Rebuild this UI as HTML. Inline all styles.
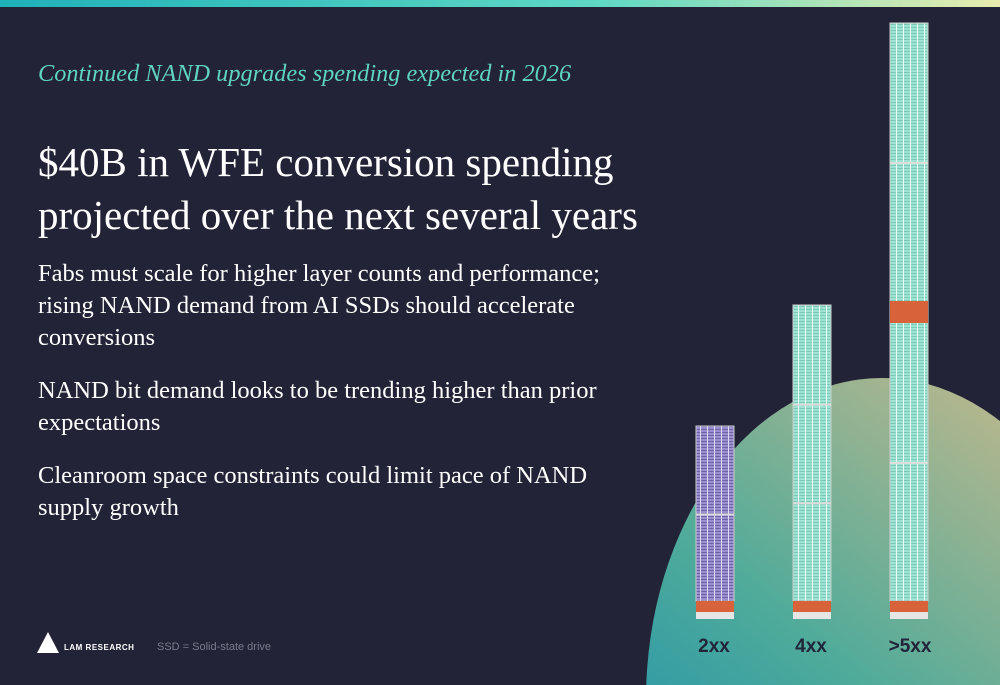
<!DOCTYPE html>
<html><head><meta charset="utf-8"><style>
html,body{margin:0;width:1000px;height:685px;overflow:hidden}
body{background:#222336;position:relative;font-family:"Liberation Serif",serif}
.t{position:absolute;left:38px;color:#fff;white-space:nowrap}
</style></head><body>
<div style="position:absolute;left:0;top:0;width:1000px;height:7px;background:linear-gradient(90deg,#1fb1b9,#5fd8c4 60%,#e8ecae)"></div>
<svg width="1000" height="685" style="position:absolute;left:0;top:0">
<defs>
<linearGradient id="arc" x1="0.2" y1="1" x2="0.8" y2="0">
<stop offset="0" stop-color="#1089b4"/><stop offset="0.5" stop-color="#4fab9a"/><stop offset="1" stop-color="#c2b88c"/></linearGradient>
<pattern id="pp" width="7" height="3" patternUnits="userSpaceOnUse"><rect width="7" height="3" fill="#9b8fd0"/><rect width="7" height="1" fill="#6e64a8"/><rect width="1" height="3" fill="#e0dcf0"/></pattern>
<pattern id="gp" width="7" height="3" patternUnits="userSpaceOnUse"><rect width="7" height="3" fill="#9fe3d4"/><rect width="7" height="1" fill="#7ccbb9"/><rect width="1" height="3" fill="#eef8f5"/></pattern>
</defs>
<ellipse cx="882" cy="700" rx="236" ry="322" fill="url(#arc)"/>
<g id="bars"></g>
<g font-family="Liberation Sans,sans-serif" font-weight="bold" font-size="19" fill="#22243a" text-anchor="middle">
<text x="714" y="652">2xx</text>
<text x="811" y="652">4xx</text>
<text x="910" y="652">&gt;5xx</text>
</g>
</svg>
<div class="t" style="top:60px;font-size:24.3px;font-style:italic;color:#5fd4c0">Continued NAND upgrades spending expected in 2026</div>
<div class="t" style="top:136px;font-size:41px;line-height:53px">$40B in WFE conversion spending<br>projected over the next several years</div>
<div class="t" style="top:258px;font-size:24.5px;line-height:32px">Fabs must scale for higher layer counts and performance;<br>rising NAND demand from AI SSDs should accelerate<br>conversions</div>
<div class="t" style="top:375px;font-size:24.5px;line-height:32px">NAND bit demand looks to be trending higher than prior<br>expectations</div>
<div class="t" style="top:460px;font-size:24.5px;line-height:32px">Cleanroom space constraints could limit pace of NAND<br>supply growth</div>
<svg width="22" height="22" style="position:absolute;left:37px;top:632px"><polygon points="11,0 22,21 0,21" fill="#fff"/></svg>
<div class="t" style="left:64px;top:643px;font-family:'Liberation Sans',sans-serif;font-size:8px;font-weight:bold;letter-spacing:0.5px">LAM RESEARCH</div>
<div class="t" style="left:157px;top:641px;font-family:'Liberation Sans',sans-serif;font-size:11px;color:#7a7c8c">SSD = Solid-state drive</div>
<script>
const categories=["2xx","4xx",">5xx"];
const stackHeights=[175,296,578];
const decks=[2,3,4];
const fills=["url(#pp)","url(#gp)","url(#gp)"];
const g=document.getElementById('bars');
const ns="http://www.w3.org/2000/svg";
const xs=[696,793,890],bottom=619,base=18,joint=22;
const yScale=v=>bottom-base-v;
categories.forEach((c,i)=>{
  const n=decks[i];
  const top=yScale(stackHeights[i]);
  const r=document.createElementNS(ns,'rect');
  r.setAttribute('x',xs[i]);r.setAttribute('y',top);r.setAttribute('width',38);r.setAttribute('height',bottom-base-top);
  r.setAttribute('fill',fills[i]);r.setAttribute('stroke','#ccc');r.setAttribute('stroke-width','1');
  
  
  g.appendChild(r);
  const b=document.createElementNS(ns,'rect');
  b.setAttribute('x',xs[i]);b.setAttribute('y',bottom-base);b.setAttribute('width',38);b.setAttribute('height',base);
  b.setAttribute('fill','#d8623a');
  
  
  g.appendChild(b);
  const w=document.createElementNS(ns,'rect');
  w.setAttribute('x',xs[i]);w.setAttribute('y',bottom-7);w.setAttribute('width',38);w.setAttribute('height',7);w.setAttribute('fill','#e6e6e6');
  
  
  g.appendChild(w);
  const hasJoint=n>3;
  const deckH=(stackHeights[i]-(hasJoint?joint:0))/n;
  for(let k=1;k<n;k++){
    const l=document.createElementNS(ns,'rect');
    if(hasJoint&&k==2){
      l.setAttribute('height',joint);l.setAttribute('fill','#d8623a');
      l.setAttribute('y',bottom-base-k*deckH-joint);
    } else {
      l.setAttribute('height',2);l.setAttribute('fill','#ddd');
      l.setAttribute('y',bottom-base-k*deckH-(hasJoint&&k>2?joint:0));
    }
    l.setAttribute('x',xs[i]);l.setAttribute('width',38);
    
    
    g.appendChild(l);
  }
});
</script>
</body></html>
